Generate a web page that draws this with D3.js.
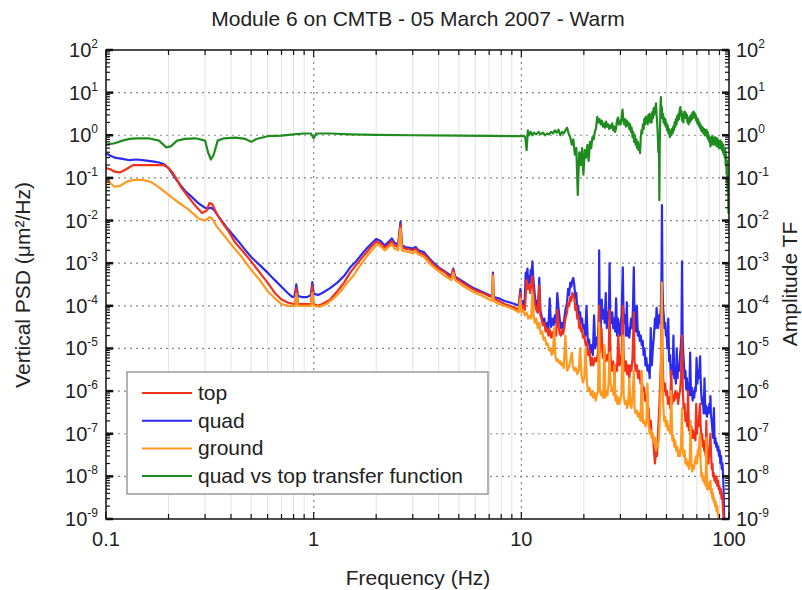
<!DOCTYPE html>
<html><head><meta charset="utf-8">
<script src="https://cdn.jsdelivr.net/npm/d3@7"></script>
<style>body{margin:0;background:#fff;} text{font-family:"Liberation Sans",Arial,sans-serif;fill:#222;}</style>
</head><body><svg id="c" width="802" height="590"></svg>
<script>
const title = "Module 6 on CMTB - 05 March 2007 - Warm";
const xLabel = "Frequency (Hz)";
const yLabelLeft = "Vertical PSD (\u03bcm\u00b2/Hz)";
const yLabelRight = "Amplitude TF";
const xTicks = [0.1, 1, 10, 100];
const xTickLabels = ["0.1", "1", "10", "100"];
const yExponents = [2, 1, 0, -1, -2, -3, -4, -5, -6, -7, -8, -9];
const seriesNames = ["top", "quad", "ground", "quad vs top transfer function"];

const quad = [[0.1,0.38],[0.105,0.33],[0.11,0.3],[0.12,0.28],[0.13,0.26],[0.14,0.27],[0.15,0.26],[0.16,0.25],[0.17,0.24],[0.18,0.23],[0.19,0.21],[0.2,0.17],[0.21,0.12],[0.22,0.085],[0.23,0.065],[0.24,0.05],[0.26,0.035],[0.28,0.025],[0.3,0.02],[0.31,0.019],[0.32,0.02],[0.33,0.018],[0.35,0.012],[0.38,0.007],[0.41,0.0045],[0.44,0.003],[0.47,0.002],[0.5,0.0014],[0.55,0.0009],[0.6,0.0006],[0.65,0.0004],[0.7,0.00028],[0.75,0.0002],[0.79,0.00016],[0.81,0.00017],[0.825,0.00032],[0.84,0.00017],[0.88,0.00016],[0.93,0.00016],[0.97,0.00018],[0.985,0.00036],[1.0,0.00019],[1.05,0.00018],[1.1,0.0002],[1.2,0.00026],[1.3,0.00035],[1.4,0.0005],[1.5,0.0008],[1.6,0.0011],[1.7,0.0016],[1.8,0.0022],[1.9,0.0029],[2.0,0.0037],[2.1,0.0033],[2.2,0.0026],[2.3,0.0032],[2.38,0.0038],[2.45,0.003],[2.55,0.0027],[2.62,0.0095],[2.66,0.0027],[2.75,0.0024],[2.9,0.0023],[3.0,0.0022],[3.1,0.0024],[3.2,0.002],[3.4,0.0018],[3.6,0.0013],[3.8,0.001],[4.0,0.0008],[4.3,0.00063],[4.6,0.0005],[4.7,0.00075],[4.8,0.00048],[5.2,0.00038],[5.6,0.0003],[6.0,0.00025],[6.5,0.00021],[7.0,0.00018],[7.25,0.00017],[7.3,0.0006],[7.35,0.00016],[7.8,0.00015],[8.3,0.00013],[8.8,0.00012],[9.3,0.00011],[9.7,0.0001],[9.9,0.00025],
[10.0,0.0001],[10.2,0.00013],[10.35,0.00009],[10.5,0.0006],[10.6,0.0004],[10.7,0.00075],[10.8,0.0003],[10.9,0.0005],[11.0,0.00035],[11.1,0.0007],[11.2,0.0004],[11.3,0.0011],[11.4,0.0005],[11.5,0.0003],[11.65,0.00015],[11.8,0.0001],[11.9,0.00013],[12.0,0.00007],[12.2,0.00045],[12.35,0.00008],[12.5,0.00006],[12.7,0.00004],[12.9,0.00005],[13.1,0.000028],[13.3,0.00004],[13.5,0.00003],[13.7,0.00015],[13.9,0.000032],[14.1,0.00005],[14.3,0.000035],[14.5,0.00006],[14.7,0.00004],[14.9,0.0002],[15.1,0.00009],[15.3,0.00005],[15.5,0.00003],[15.7,0.00004],[15.9,0.00003],[16.1,0.00005],[16.3,0.00008],[16.6,0.00012],[16.8,0.00025],[17.0,0.00018],[17.2,0.00035],[17.4,0.00028],[17.6,0.0004],[17.8,0.00045],[18.0,0.0003],[18.2,0.00015],[18.4,0.0002],[18.6,0.00008],[18.8,0.0001],[19.0,0.00005],[19.2,0.00007],[19.4,0.00004],[19.6,0.00005],[19.8,0.00003],[20.0,0.000035],[20.3,0.00002],[20.6,0.0001],[20.9,0.000013],[21.2,0.000016],[21.5,0.000008],[21.8,0.000012],[22.1,0.000007],[22.4,0.00006],[22.7,0.00001],[23.0,0.000018],[23.3,0.000012],[23.6,0.00004],[23.7,0.002],[23.85,0.00005],[24.1,0.00003],[24.4,0.00014],[24.6,0.00005],[24.9,0.00008],[25.2,0.00004],[25.5,0.0002],[25.8,0.00003],[26.1,0.00007],[26.4,0.00005],[26.6,0.001],[26.8,0.00006],[27.1,0.00004],[27.4,0.00007],[27.7,0.00003],[28.0,0.00005],[28.3,0.000025],[28.6,0.00015],[28.9,0.00002],[29.2,0.00005],[29.5,0.00003],[29.8,0.00002],[30.1,0.00004],[30.4,0.00006],[30.8,0.0008],[31.0,0.0001],[31.3,0.00004],[31.6,0.00006],[31.9,0.00002],[32.2,0.00012],[32.5,0.00002],[32.8,0.00003],[33.1,0.000018],[33.4,0.00003],[33.8,0.00005],[34.2,0.00003],[34.5,0.0001],[34.8,0.0008],[35.0,0.00012],[35.3,0.00004],[35.6,0.000025],[36.0,0.0001],[36.4,0.00002],[36.8,0.000025],[37.2,0.000015],[37.6,0.00002],[38.0,0.000012],[38.4,0.000015],[38.8,0.000007],[39.2,0.00001],[39.6,0.000004],[40.0,0.000006],[40.5,0.000003],[41.0,0.000004],[41.5,0.000002],[42.0,0.00003],[42.5,0.000004],[43.0,0.00001],[43.5,0.00002],[44.0,0.00005],[44.4,0.00003],[44.8,0.00009],[45.2,0.00005],[45.6,0.00003],[46.0,0.00006],[46.5,0.00004],[47.0,0.0001],[47.3,0.0005],[47.55,0.023],[47.8,0.0004],[48.1,0.0001],[48.5,0.00006],[48.9,0.00003],[49.3,0.00004],[49.7,0.00002],[50.1,0.000025],[50.5,0.00001],[51.0,0.00005],[51.5,0.000005],[52.0,0.000007],[52.5,0.000002],[53.0,0.000004],[53.5,0.0000025],[54.0,0.00002],[54.5,0.000002],[55.0,0.000003],[55.5,0.0000015],[56.0,0.00001],[56.5,0.000002],[57.0,0.000004],[57.5,0.000003],[58.0,0.000006],[58.5,0.00001],[59.0,0.00002],[59.4,0.0011],[59.8,0.00002],[60.2,0.000008],[60.7,0.000004],[61.2,0.000002],[61.7,0.000003],[62.2,0.0000011],[62.7,0.000002],[63.2,0.000001],[63.8,0.0000015],[64.4,0.0000008],[65.0,0.000008],[65.6,0.0000008],[66.2,0.0000012],[66.8,0.0000006],[67.4,0.000001],[68.0,0.0000007],[68.6,0.0000012],[69.2,0.000001],[69.8,0.000006],[70.4,0.0000015],[71.0,0.000003],[71.6,0.000002],[72.2,0.000004],[72.6,0.0000065],[73.0,0.000002],[73.6,0.0000008],[74.2,0.0000005],[74.8,0.0000007],[75.5,0.0000003],[76.2,0.000002],[76.9,0.0000003],[77.6,0.00000045],[78.3,0.00000025],[79.0,0.0000004],[79.7,0.0000003],[80.4,0.0000005],[81.1,0.0000004],[81.4,0.00000076],[81.8,0.0000003],[82.5,0.0000002],[83.2,0.00000012],[83.9,0.00000008],[84.6,0.0000004],[85.3,0.00000006],[86.0,0.00000008],[86.7,0.00000005],[87.4,0.00000006],[88.1,0.00000004],[88.8,0.00000005],[89.5,0.00000003],[90.2,0.00000004],[90.9,0.00000002],[91.6,0.00000003],[92.3,0.000000015],[93.0,0.00000002],[93.7,0.00000001],[94.3,0.000000004],[94.8,1e-9]];

const top_ = [[0.1,0.17],[0.105,0.16],[0.11,0.14],[0.117,0.135],[0.125,0.16],[0.135,0.2],[0.15,0.2],[0.17,0.2],[0.19,0.2],[0.2,0.17],[0.21,0.13],[0.22,0.09],[0.23,0.06],[0.25,0.035],[0.27,0.022],[0.29,0.015],[0.305,0.017],[0.315,0.026],[0.325,0.024],[0.34,0.015],[0.36,0.0095],[0.39,0.0055],[0.42,0.003],[0.46,0.0018],[0.5,0.0011],[0.55,0.0006],[0.6,0.00035],[0.65,0.0002],[0.7,0.00014],[0.75,0.00012],[0.8,0.00011],[0.815,0.00011],[0.825,0.00026],[0.84,0.00011],[0.9,0.00011],[0.97,0.00011],[0.985,0.0003],[1.0,0.00011],[1.05,0.0001],[1.1,0.00011],[1.2,0.00014],[1.3,0.00022],[1.4,0.00035],[1.5,0.0006],[1.6,0.0009],[1.7,0.0013],[1.8,0.0018],[1.9,0.0025],[2.0,0.0032],[2.1,0.0029],[2.2,0.0023],[2.3,0.0028],[2.38,0.0033],[2.45,0.0026],[2.55,0.0024],[2.62,0.008],[2.66,0.0024],[2.75,0.0022],[2.9,0.0021],[3.0,0.002],[3.1,0.0022],[3.2,0.0018],[3.4,0.0016],[3.6,0.0012],[3.8,0.0009],[4.0,0.00075],[4.3,0.0006],[4.6,0.00045],[4.7,0.0007],[4.8,0.00045],[5.2,0.00035],[5.6,0.00028],[6.0,0.00023],[6.5,0.0002],[7.0,0.00017],[7.25,0.00016],[7.3,0.00055],[7.35,0.00015],[7.8,0.00013],[8.3,0.00011],[8.8,0.0001],[9.3,0.00009],[9.7,0.00008],[9.9,0.0002],
[10.0,0.00008],[10.2,0.0001],[10.4,0.00008],[10.6,0.0004],[10.75,0.00025],[10.9,0.0003],[11.05,0.0002],[11.2,0.0004],[11.3,0.0005],[11.45,0.0002],[11.6,0.00012],[11.8,0.00008],[12.0,0.00007],[12.2,0.0003],[12.35,0.00006],[12.5,0.00005],[12.7,0.000035],[12.9,0.00004],[13.1,0.000025],[13.3,0.00003],[13.5,0.00002],[13.7,0.000028],[13.9,0.000018],[14.1,0.000024],[14.3,0.000018],[14.5,0.000025],[14.7,0.00002],[14.9,0.00008],[15.1,0.000035],[15.3,0.000022],[15.5,0.00002],[15.7,0.000028],[15.9,0.000022],[16.1,0.00003],[16.3,0.00005],[16.6,0.00007],[16.8,0.00012],[17.0,0.0001],[17.2,0.00016],[17.4,0.00013],[17.6,0.0002],[17.8,0.00018],[18.0,0.00015],[18.2,0.00008],[18.4,0.0001],[18.6,0.00005],[18.8,0.00006],[19.0,0.00003],[19.2,0.00004],[19.4,0.000025],[19.6,0.00003],[19.8,0.000018],[20.1,0.00002],[20.4,0.000012],[20.7,0.000014],[21.0,0.000007],[21.3,0.000009],[21.6,0.000004],[21.9,0.000006],[22.2,0.000004],[22.6,0.000006],[23.0,0.000005],[23.4,0.000008],[23.7,0.0001],[23.9,0.000008],[24.3,0.00003],[24.7,0.000006],[25.1,0.000009],[25.5,0.000005],[25.9,0.000007],[26.3,0.000005],[26.6,0.00008],[26.9,0.000006],[27.3,0.000003],[27.7,0.000005],[28.1,0.000002],[28.5,0.000004],[28.9,0.000003],[29.3,0.00002],[29.7,0.000004],[30.1,0.000005],[30.5,0.000008],[30.8,0.0001],[31.1,0.000006],[31.5,0.000003],[31.9,0.000005],[32.3,0.0000025],[32.7,0.000004],[33.1,0.000002],[33.5,0.000004],[33.9,0.000003],[34.3,0.000006],[34.8,0.00007],[35.1,0.000005],[35.5,0.000003],[36.0,0.000004],[36.5,0.000002],[37.0,0.000003],[37.5,0.0000015],[38.0,0.000002],[38.5,0.000001],[39.0,0.0000012],[39.5,0.0000006],[40.0,0.0000008],[40.5,0.0000003],[41.0,0.0000004],[41.5,0.00000015],[42.0,0.0000002],[42.5,0.00000008],[43.0,0.0000001],[43.5,0.00000004],[44.0,0.00000002],[44.5,0.00000004],[45.0,0.00000003],[45.5,0.0000001],[46.0,0.0000003],[46.5,0.000001],[47.0,0.000005],[47.5,0.0003],[47.8,0.00001],[48.2,0.000002],[48.7,0.000001],[49.2,0.0000015],[49.7,0.0000008],[50.3,0.000001],[50.9,0.0000005],[51.5,0.0000007],[52.1,0.0000004],[52.7,0.000003],[53.3,0.0000005],[53.9,0.0000008],[54.5,0.0000006],[55.1,0.000001],[55.7,0.0000007],[56.3,0.0000009],[56.9,0.0000005],[57.5,0.0000008],[58.1,0.000001],[58.7,0.000002],[59.4,0.00002],[59.9,0.000001],[60.5,0.0000004],[61.1,0.0000005],[61.7,0.0000002],[62.3,0.0000003],[62.9,0.00000015],[63.5,0.000001],[64.1,0.00000012],[64.7,0.0000002],[65.3,0.0000001],[65.9,0.00000015],[66.5,0.00000008],[67.1,0.00000012],[67.7,0.00000008],[68.3,0.0000001],[68.9,0.00000007],[69.5,0.0000005],[70.1,0.0000001],[70.7,0.0000002],[71.3,0.00000015],[71.9,0.0000003],[72.5,0.0000005],[73.0,0.00000015],[73.6,0.00000008],[74.2,0.0000001],[74.8,0.00000005],[75.4,0.00000007],[76.0,0.00000004],[76.6,0.00000005],[77.2,0.00000003],[77.8,0.0000002],[78.4,0.00000002],[79.0,0.00000003],[79.6,0.00000002],[80.2,0.00000004],[80.8,0.00000006],[81.4,0.0000001],[82.0,0.00000003],[82.6,0.000000015],[83.2,0.00000002],[83.8,0.00000001],[84.4,0.000000012],[85.0,0.000000008],[85.7,0.00000001],[86.4,0.000000007],[87.1,0.00000001],[87.8,0.000000006],[88.5,0.000000008],[89.2,0.000000005],[89.9,0.000000006],[90.6,0.000000004],[91.3,0.000000005],[92.0,0.000000003],[92.7,0.000000004],[93.4,0.000000002],[94.2,1e-9]];

const ground = [[0.1,0.09],[0.105,0.075],[0.11,0.062],[0.117,0.065],[0.125,0.08],[0.135,0.09],[0.15,0.09],[0.165,0.08],[0.18,0.06],[0.2,0.04],[0.22,0.028],[0.25,0.018],[0.28,0.011],[0.3,0.01],[0.315,0.012],[0.325,0.011],[0.34,0.0075],[0.37,0.0045],[0.41,0.0024],[0.45,0.0014],[0.5,0.0007],[0.55,0.0004],[0.6,0.00022],[0.65,0.00015],[0.7,0.00011],[0.75,0.0001],[0.8,0.0001],[0.815,0.0001],[0.825,0.00019],[0.84,0.0001],[0.9,0.0001],[0.97,0.0001],[0.985,0.0002],[1.0,0.0001],[1.07,0.000095],[1.15,0.00011],[1.25,0.00015],[1.35,0.00022],[1.45,0.00035],[1.55,0.0005],[1.65,0.0008],[1.75,0.0012],[1.85,0.0017],[1.95,0.0023],[2.02,0.0028],[2.1,0.0025],[2.2,0.002],[2.3,0.0024],[2.38,0.0028],[2.45,0.0022],[2.55,0.002],[2.62,0.0065],[2.66,0.002],[2.75,0.0019],[2.9,0.0018],[3.0,0.0017],[3.1,0.0019],[3.2,0.0016],[3.4,0.0014],[3.6,0.001],[3.8,0.0008],[4.0,0.00065],[4.3,0.0005],[4.6,0.0004],[4.7,0.0006],[4.8,0.0004],[5.2,0.0003],[5.6,0.00024],[6.0,0.0002],[6.5,0.00017],[7.0,0.00014],[7.25,0.00013],[7.3,0.0005],[7.35,0.00013],[7.8,0.00011],[8.3,0.0001],[8.8,0.00009],[9.3,0.00008],[9.7,0.00007],[9.9,0.00015],
[10.0,0.00007],[10.2,0.00008],[10.4,0.00006],[10.6,0.00007],[10.8,0.00005],[11.0,0.00006],[11.15,0.00005],[11.3,0.0002],[11.45,0.00006],[11.6,0.00004],[11.8,0.00005],[12.0,0.00003],[12.2,0.00004],[12.4,0.000022],[12.6,0.000025],[12.8,0.000016],[13.0,0.000018],[13.2,0.000012],[13.4,0.000013],[13.6,0.000009],[13.8,0.00001],[14.0,0.000007],[14.2,0.000008],[14.4,0.00003],[14.6,0.0000065],[14.8,0.000005],[15.0,0.0000055],[15.2,0.0000045],[15.4,0.000005],[15.6,0.000004],[15.8,0.0000045],[16.0,0.0000035],[16.3,0.00002],[16.6,0.000003],[16.9,0.0000035],[17.2,0.000005],[17.5,0.000008],[17.7,0.000004],[18.0,0.000003],[18.3,0.0000035],[18.6,0.0000025],[18.9,0.000003],[19.2,0.00001],[19.5,0.0000022],[19.8,0.0000016],[20.1,0.000002],[20.4,0.00001],[20.7,0.0000015],[21.0,0.000001],[21.3,0.0000012],[21.6,0.0000008],[21.9,0.000001],[22.2,0.0000007],[22.5,0.0000009],[22.8,0.0000006],[23.1,0.0000008],[23.4,0.000001],[23.7,0.00004],[23.9,0.000001],[24.2,0.0000008],[24.5,0.000001],[24.8,0.0000007],[25.1,0.000012],[25.4,0.0000007],[25.7,0.000001],[26.0,0.0000008],[26.3,0.0000015],[26.6,0.000008],[26.9,0.0000015],[27.2,0.000001],[27.5,0.0000012],[27.8,0.0000008],[28.1,0.000004],[28.4,0.0000006],[28.7,0.0000008],[29.0,0.0000005],[29.3,0.0000007],[29.6,0.0000005],[30.0,0.0000006],[30.4,0.000001],[30.8,0.00002],[31.1,0.0000008],[31.5,0.0000005],[31.9,0.0000006],[32.3,0.0000004],[32.7,0.0000005],[33.1,0.000002],[33.5,0.0000005],[33.9,0.0000004],[34.3,0.0000007],[34.8,0.000003],[35.1,0.0000004],[35.5,0.0000003],[36.0,0.00000035],[36.5,0.00000025],[37.0,0.0000003],[37.5,0.0000002],[38.0,0.000003],[38.5,0.00000018],[39.0,0.0000002],[39.5,0.00000015],[40.0,0.00000018],[40.5,0.0000015],[41.0,0.00000015],[41.5,0.0000001],[42.0,0.00000012],[42.5,0.00000008],[43.0,0.0000001],[43.5,0.00000006],[44.0,0.00000008],[44.5,0.00000004],[45.0,0.00000006],[45.5,0.00000005],[46.0,0.00000008],[46.5,0.0000003],[47.0,0.000002],[47.5,0.00035],[47.8,0.000003],[48.2,0.0000005],[48.7,0.0000002],[49.2,0.00000025],[49.7,0.00000015],[50.3,0.0000002],[50.9,0.00000012],[51.5,0.00000015],[52.1,0.0000001],[52.7,0.000001],[53.3,0.00000007],[53.9,0.00000009],[54.5,0.00000005],[55.1,0.00000007],[55.7,0.00000004],[56.3,0.00000005],[56.9,0.00000003],[57.5,0.00000004],[58.1,0.00000003],[58.7,0.00000005],[59.4,0.0000004],[59.9,0.00000004],[60.5,0.00000003],[61.1,0.00000004],[61.7,0.00000002],[62.3,0.000000025],[62.9,0.000000018],[63.5,0.000000022],[64.1,0.000000015],[64.7,0.00000002],[65.3,0.0000002],[65.9,0.00000002],[66.5,0.000000013],[67.1,0.000000018],[67.7,0.000000015],[68.3,0.00000002],[68.9,0.000000025],[69.5,0.00000003],[70.1,0.00000002],[70.7,0.00000004],[71.3,0.00000003],[71.9,0.00000006],[72.5,0.0000001],[73.0,0.00000002],[73.6,0.00000001],[74.2,0.000000012],[74.8,0.000000008],[75.4,0.00000001],[76.0,0.000000007],[76.6,0.000000009],[77.2,0.000000006],[77.8,0.00000008],[78.4,0.000000005],[79.0,0.000000007],[79.6,0.000000005],[80.2,0.000000007],[80.8,0.000000005],[81.4,0.000000008],[82.0,0.000000004],[82.6,0.000000005],[83.2,0.000000003],[83.8,0.000000004],[84.4,0.0000000025],[85.0,0.000000003],[85.7,0.000000002],[86.4,0.0000000025],[87.1,0.0000000015],[87.8,0.000000002],[88.5,0.0000000013],[89.2,1e-9]];

const transferFn = [[0.1,0.6],[0.11,0.65],[0.12,0.75],[0.13,0.82],[0.14,0.85],[0.16,0.85],[0.18,0.75],[0.195,0.52],[0.205,0.55],[0.22,0.75],[0.24,0.82],[0.27,0.85],[0.3,0.75],[0.31,0.4],[0.32,0.27],[0.33,0.35],[0.345,0.75],[0.37,0.85],[0.42,0.88],[0.47,0.82],[0.5,0.7],[0.53,0.82],[0.6,0.95],[0.7,0.98],[0.8,1.05],[0.9,1.1],[0.97,1.1],[1.0,0.85],[1.03,1.1],[1.2,1.1],[1.5,1.05],[2,1.02],[3,1.0],[5,0.98],[7,0.97],
[10,0.95],[10.3,0.97],[10.45,0.9],[10.6,0.45],[10.75,1.3],[10.9,1.0],[11.1,1.2],[11.3,1.0],[11.5,1.15],[11.8,1.05],[12.1,1.2],[12.4,1.05],[12.7,1.15],[13.0,1.0],[13.3,1.1],[13.6,1.05],[13.9,1.2],[14.2,1.1],[14.5,1.3],[14.8,1.15],[15.1,1.35],[15.4,1.0],[15.7,1.2],[16.0,1.1],[16.3,1.3],[16.6,1.5],[16.9,1.1],[17.2,0.9],[17.5,0.6],[17.8,0.8],[18.1,0.35],[18.4,0.5],[18.7,0.04],[19.0,0.4],[19.3,0.2],[19.6,0.5],[19.9,0.12],[20.2,0.45],[20.5,0.3],[20.8,0.6],[21.1,0.25],[21.4,0.7],[21.7,0.5],[22.0,0.9],[22.3,0.8],[22.6,1.2],[22.9,1.5],[23.2,2.7],[23.5,2.0],[23.8,2.4],[24.1,1.8],[24.4,2.2],[24.7,1.6],[25.0,1.9],[25.3,1.5],[25.6,2.1],[25.9,1.6],[26.2,1.8],[26.5,1.4],[26.8,1.7],[27.1,1.5],[27.4,1.9],[27.7,1.3],[28.0,1.6],[28.3,1.2],[28.6,1.5],[28.9,2.2],[29.2,2.6],[29.5,1.8],[29.8,2.2],[30.1,1.8],[30.4,2.6],[30.7,4.0],[31.0,2.2],[31.3,1.8],[31.6,2.4],[31.9,1.6],[32.2,2.2],[32.5,1.7],[32.8,2.0],[33.1,1.4],[33.4,1.8],[33.7,1.2],[34.0,1.5],[34.3,0.9],[34.6,1.2],[34.9,0.7],[35.2,1.0],[35.5,0.6],[35.8,0.8],[36.1,0.5],[36.4,0.7],[36.7,0.45],[37.0,0.6],[37.3,0.38],[37.6,0.9],[37.9,1.3],[38.2,1.1],[38.5,1.8],[38.8,1.4],[39.1,2.4],[39.4,1.8],[39.7,2.7],[40.0,2.0],[40.3,2.6],[40.6,1.8],[40.9,3.0],[41.2,2.2],[41.5,3.2],[41.8,2.0],[42.1,2.8],[42.4,2.0],[42.7,3.5],[43.0,2.5],[43.3,4.2],[43.6,3.0],[43.9,4.5],[44.2,3.5],[44.5,5.6],[44.8,3.0],[45.1,2.0],[45.4,1.0],[45.7,0.4],[46.0,0.8],[46.2,0.03],[46.4,0.6],[46.6,2.0],[46.8,5.0],[47.0,7.9],[47.2,3.5],[47.5,4.5],[47.8,2.5],[48.1,3.2],[48.4,2.0],[48.7,2.6],[49.0,1.8],[49.3,2.4],[49.6,1.6],[49.9,2.0],[50.3,1.3],[50.7,1.7],[51.1,1.1],[51.5,1.4],[51.9,0.9],[52.3,1.2],[52.7,1.0],[53.1,1.4],[53.5,1.1],[53.9,1.6],[54.3,1.3],[54.7,2.0],[55.1,1.6],[55.5,2.4],[55.9,1.8],[56.3,2.8],[56.7,2.2],[57.1,3.2],[57.5,2.4],[57.9,3.8],[58.3,4.6],[58.7,3.0],[59.1,3.6],[59.5,2.2],[59.9,2.8],[60.3,2.0],[60.7,3.2],[61.1,3.6],[61.5,2.6],[61.9,3.3],[62.3,2.5],[62.7,3.0],[63.1,2.0],[63.5,2.6],[63.9,1.8],[64.3,2.4],[64.7,2.0],[65.1,2.8],[65.5,2.2],[65.9,3.0],[66.3,2.4],[66.7,3.4],[67.1,2.8],[67.5,3.6],[67.9,2.6],[68.3,3.3],[68.7,2.7],[69.1,3.0],[69.5,2.2],[69.9,2.6],[70.4,1.9],[70.9,2.4],[71.4,1.7],[71.9,2.0],[72.4,1.5],[72.9,1.8],[73.4,1.3],[73.9,1.6],[74.4,1.2],[74.9,1.5],[75.4,1.1],[75.9,1.4],[76.4,1.0],[76.9,1.3],[77.4,1.1],[77.9,1.35],[78.4,0.9],[78.9,1.2],[79.4,0.8],[79.9,1.0],[80.4,0.7],[80.9,0.9],[81.4,0.55],[81.9,0.8],[82.4,0.6],[82.9,0.95],[83.4,0.7],[83.9,0.9],[84.4,0.6],[84.9,0.85],[85.4,0.65],[85.9,0.9],[86.4,0.6],[86.9,0.8],[87.4,0.55],[87.9,0.85],[88.4,0.6],[88.9,0.75],[89.4,0.5],[89.9,0.7],[90.4,0.5],[90.9,0.75],[91.4,0.55],[91.9,0.7],[92.4,0.45],[92.9,0.65],[93.4,0.4],[93.9,0.6],[94.4,0.35],[94.9,0.5],[95.4,0.3],[95.9,0.45],[96.4,0.2],[96.9,0.35],[97.4,0.12],[97.9,0.25],[98.4,0.05],[98.9,0.1],[99.4,0.015],[100,0.02]];

const colors = {top:"#f2311c", quad:"#2b2bef", ground:"#ff991f", tf:"#1f8c1f"};

const L = 106, R = 729, T = 50, B = 519;
const svg = d3.select("#c");
const x = d3.scaleLog().domain([0.1, 100]).range([L, R]);
const y = d3.scaleLog().domain([1e-9, 1e2]).range([B, T]);
const yR = d3.scaleLog().domain([1e-9, 1e2]).range([B, T]);

const minorX = [];
[0.1, 1, 10].forEach(d => { for (let k = 2; k <= 9; k++) minorX.push(d * k); });
svg.append("g").selectAll("line").data(minorX).join("line")
  .attr("x1", d => x(d)).attr("x2", d => x(d)).attr("y1", T).attr("y2", B)
  .attr("stroke", "#e2e2e2").attr("stroke-width", 1);
svg.append("g").selectAll("line").data([1, 10]).join("line")
  .attr("x1", d => x(d)).attr("x2", d => x(d)).attr("y1", T).attr("y2", B)
  .attr("stroke", "#888").attr("stroke-width", 1.2).attr("stroke-dasharray", "2,4");
svg.append("g").selectAll("line").data(yExponents.slice(1, -1)).join("line")
  .attr("x1", L).attr("x2", R).attr("y1", d => y(Math.pow(10, d))).attr("y2", d => y(Math.pow(10, d)))
  .attr("stroke", "#888").attr("stroke-width", 1.2).attr("stroke-dasharray", "2,4");

svg.append("clipPath").attr("id", "clip").append("rect").attr("x", L).attr("y", T).attr("width", R - L).attr("height", B - T);
const line = d3.line().x(d => x(d[0])).y(d => y(d[1]));
const lineR = d3.line().x(d => x(d[0])).y(d => yR(d[1]));
const g = svg.append("g").attr("clip-path", "url(#clip)");
[[quad, colors.quad], [top_, colors.top], [ground, colors.ground]].forEach(([data, c]) => {
  g.append("path").datum(data).attr("d", line).attr("fill", "none").attr("stroke", c)
    .attr("stroke-width", 2.2).attr("stroke-linejoin", "round");
});
g.append("path").datum(transferFn).attr("d", lineR).attr("fill", "none").attr("stroke", colors.tf)
  .attr("stroke-width", 2.2).attr("stroke-linejoin", "round");

svg.append("rect").attr("x", L).attr("y", T).attr("width", R - L).attr("height", B - T)
  .attr("fill", "none").attr("stroke", "#111").attr("stroke-width", 1.5);

const majorY = yExponents.map(e => Math.pow(10, e));
const minorY = [];
for (let e = -9; e < 2; e++) for (let k = 2; k <= 9; k++) minorY.push(k * Math.pow(10, e));
const tk = svg.append("g").attr("stroke", "#111").attr("stroke-width", 1.2);
majorY.forEach(v => {
  tk.append("line").attr("x1", L).attr("x2", L + 7).attr("y1", y(v)).attr("y2", y(v)).attr("stroke-width", 2.5);
  tk.append("line").attr("x1", R).attr("x2", R - 7).attr("y1", y(v)).attr("y2", y(v)).attr("stroke-width", 2.5);
});
minorY.forEach(v => {
  tk.append("line").attr("x1", L).attr("x2", L + 4).attr("y1", y(v)).attr("y2", y(v));
  tk.append("line").attr("x1", R).attr("x2", R - 4).attr("y1", y(v)).attr("y2", y(v));
});
xTicks.forEach(v => {
  tk.append("line").attr("x1", x(v)).attr("x2", x(v)).attr("y1", B).attr("y2", B - 7);
  tk.append("line").attr("x1", x(v)).attr("x2", x(v)).attr("y1", T).attr("y2", T + 7);
});
minorX.forEach(v => {
  tk.append("line").attr("x1", x(v)).attr("x2", x(v)).attr("y1", B).attr("y2", B - 5);
  tk.append("line").attr("x1", x(v)).attr("x2", x(v)).attr("y1", T).attr("y2", T + 5);
});

xTicks.forEach((v, i) => {
  svg.append("text").attr("x", x(v)).attr("y", 546).attr("text-anchor", "middle")
    .attr("font-size", 20).text(xTickLabels[i]);
});
yExponents.forEach(e => {
  const v = Math.pow(10, e);
  const tl = svg.append("text").attr("x", 98).attr("y", y(v) + 7).attr("text-anchor", "end").attr("font-size", 20);
  tl.append("tspan").text("10");
  tl.append("tspan").attr("font-size", 12).attr("dy", -9).text(String(e));
  const tr = svg.append("text").attr("x", 736).attr("y", yR(v) + 7).attr("text-anchor", "start").attr("font-size", 20);
  tr.append("tspan").text("10");
  tr.append("tspan").attr("font-size", 12).attr("dy", -9).text(String(e));
});

svg.append("text").attr("x", 418).attr("y", 26).attr("text-anchor", "middle").attr("font-size", 21).text(title);
svg.append("text").attr("x", 418).attr("y", 585).attr("text-anchor", "middle").attr("font-size", 21).text(xLabel);
svg.append("text").attr("transform", "translate(30,285) rotate(-90)").attr("text-anchor", "middle").attr("font-size", 21).text(yLabelLeft);
svg.append("text").attr("transform", "translate(797,284) rotate(-90)").attr("text-anchor", "middle").attr("font-size", 21).text(yLabelRight);

const lg = svg.append("g");
lg.append("rect").attr("x", 127).attr("y", 372).attr("width", 361).attr("height", 122)
  .attr("fill", "#fff").attr("stroke", "#9a9a9a").attr("stroke-width", 1.5);
const legColors = [colors.top, colors.quad, colors.ground, colors.tf];
seriesNames.forEach((n, i) => {
  const yy = 393 + i * 27.7;
  lg.append("line").attr("x1", 142).attr("x2", 192).attr("y1", yy).attr("y2", yy)
    .attr("stroke", legColors[i]).attr("stroke-width", 2);
  lg.append("text").attr("x", 198).attr("y", yy + 7).attr("font-size", 21).text(n);
});
</script></body></html>
